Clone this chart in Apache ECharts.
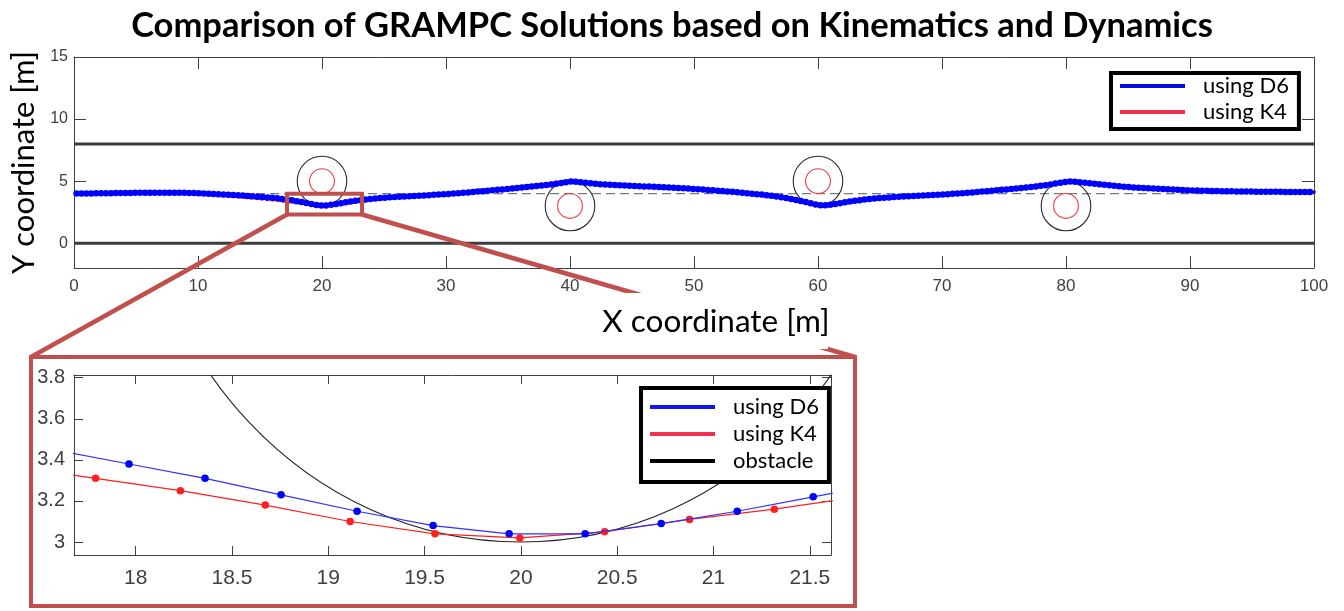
<!DOCTYPE html>
<html>
<head>
<meta charset="utf-8">
<script src="https://cdn.jsdelivr.net/npm/echarts@6/dist/echarts.min.js"></script>
<style>
  html, body { margin: 0; padding: 0; background: #fff; }
  #chart { width: 1344px; height: 611px; }
</style>
</head>
<body>
<div id="chart"></div>
<script>
// Vehicle paths around four obstacles, solved with the dynamic (D6) and kinematic (K4) models.
// Samples are spaced evenly along x; y values are listed per sample.
const d6Start = 0.204, d6Step = 0.3947;
const d6Y = [
  4.00,4.00,4.01,4.01,4.02,4.02,4.03,4.03,4.04,4.04,
  4.05,4.05,4.06,4.06,4.06,4.07,4.07,4.07,4.07,4.07,
  4.07,4.06,4.06,4.05,4.04,4.03,4.01,3.99,3.97,3.95,
  3.93,3.91,3.89,3.87,3.84,3.81,3.78,3.75,3.72,3.68,
  3.65,3.61,3.56,3.51,3.45,3.38,3.31,3.23,3.15,3.08,
  3.04,3.04,3.09,3.15,3.22,3.29,3.35,3.41,3.46,3.51,
  3.56,3.60,3.64,3.67,3.70,3.73,3.75,3.77,3.79,3.81,
  3.83,3.85,3.87,3.90,3.92,3.95,3.97,4.00,4.03,4.06,
  4.09,4.12,4.16,4.19,4.23,4.26,4.30,4.33,4.37,4.41,
  4.44,4.48,4.52,4.56,4.60,4.64,4.68,4.73,4.78,4.84,
  4.91,4.96,4.95,4.91,4.86,4.82,4.78,4.75,4.72,4.70,
  4.68,4.66,4.64,4.62,4.61,4.59,4.57,4.56,4.54,4.52,
  4.50,4.48,4.46,4.44,4.42,4.40,4.37,4.35,4.32,4.29,
  4.26,4.23,4.20,4.17,4.14,4.10,4.07,4.03,3.99,3.95,
  3.92,3.87,3.82,3.76,3.70,3.63,3.56,3.48,3.40,3.31,
  3.21,3.12,3.06,3.05,3.09,3.15,3.22,3.29,3.35,3.41,
  3.46,3.51,3.56,3.60,3.63,3.66,3.69,3.72,3.74,3.76,
  3.78,3.80,3.82,3.84,3.86,3.89,3.91,3.93,3.95,3.98,
  4.00,4.03,4.06,4.09,4.12,4.16,4.19,4.23,4.26,4.30,
  4.33,4.37,4.41,4.45,4.49,4.53,4.57,4.62,4.67,4.73,
  4.80,4.87,4.93,4.96,4.94,4.90,4.86,4.82,4.78,4.74,
  4.70,4.66,4.62,4.58,4.55,4.52,4.49,4.46,4.44,4.42,
  4.40,4.38,4.36,4.34,4.32,4.30,4.28,4.27,4.25,4.24,
  4.23,4.22,4.21,4.20,4.19,4.18,4.18,4.17,4.17,4.16,
  4.16,4.15,4.15,4.15,4.14,4.14,4.14,4.13,4.13,4.13,
  4.13,4.12,4.12,4.12
];
const k4Start = 0.172, k4Step = 0.4405;
const k4Y = [
  4.00,4.00,4.01,4.01,4.02,4.02,4.03,4.04,4.04,4.05,
  4.05,4.06,4.06,4.06,4.07,4.07,4.07,4.06,4.06,4.05,
  4.04,4.02,4.00,3.98,3.95,3.92,3.89,3.86,3.83,3.80,
  3.76,3.72,3.68,3.64,3.60,3.56,3.52,3.47,3.42,3.37,
  3.31,3.25,3.18,3.10,3.04,3.02,3.05,3.11,3.16,3.22,
  3.28,3.34,3.40,3.46,3.51,3.56,3.61,3.65,3.69,3.72,
  3.75,3.78,3.81,3.84,3.87,3.90,3.93,3.96,3.99,4.03,
  4.06,4.10,4.14,4.18,4.22,4.26,4.30,4.34,4.38,4.42,
  4.46,4.50,4.54,4.59,4.64,4.69,4.74,4.80,4.86,4.92,
  4.97,4.97,4.93,4.88,4.83,4.79,4.75,4.72,4.69,4.67,
  4.65,4.63,4.61,4.59,4.57,4.55,4.53,4.51,4.49,4.47,
  4.45,4.42,4.40,4.37,4.34,4.31,4.28,4.24,4.21,4.17,
  4.13,4.09,4.05,4.00,3.95,3.90,3.84,3.78,3.72,3.65,
  3.58,3.50,3.42,3.33,3.23,3.13,3.05,3.04,3.08,3.14,
  3.21,3.28,3.35,3.42,3.48,3.54,3.59,3.63,3.67,3.70,
  3.73,3.76,3.78,3.80,3.82,3.84,3.86,3.89,3.91,3.94,
  3.97,4.00,4.03,4.07,4.10,4.14,4.18,4.22,4.26,4.30,
  4.34,4.38,4.43,4.47,4.52,4.57,4.62,4.67,4.73,4.80,
  4.87,4.94,4.97,4.94,4.89,4.84,4.80,4.76,4.71,4.67,
  4.63,4.59,4.55,4.51,4.48,4.45,4.43,4.41,4.38,4.36,
  4.34,4.32,4.30,4.28,4.26,4.24,4.23,4.22,4.21,4.20,
  4.19,4.18,4.17,4.17,4.16,4.16,4.15,4.15,4.15,4.14,
  4.14,4.14,4.13,4.13,4.13,4.12,4.12,4.12
];

// Obstacle centres [x, y], with the safety radius and the body radius
const obstacleCenters = [[20, 5], [40, 3], [60, 5], [80, 3]];
const safetyRadius = 2;
const bodyRadius = 1;
const roadEdges = [0, 8];
const laneCenter = [4];

// Axis ticks
const mainXTicks = [0, 10, 20, 30, 40, 50, 60, 70, 80, 90, 100];
const mainYTicks = [0, 5, 10, 15];
const zoomXTicks = [18, 18.5, 19, 19.5, 20, 20.5, 21, 21.5];
const zoomYTicks = [3, 3.2, 3.4, 3.6, 3.8];
const zoomXRange = [17.68, 21.61];
const zoomYRange = [2.937, 3.813];
// Region of the main plot marked as magnified
const zoomBoxX = [17.18, 23.23];
const zoomBoxY = [2.31, 3.98];

const d6Pts = d6Y.map((y, i) => [d6Start + d6Step * i, y]);
const k4Pts = k4Y.map((y, i) => [k4Start + k4Step * i, y]);

const BLUE = '#0000ff';
const RED = '#ff1f1f';
const FRAME = '#c0504d';
const AXIS = '#404040';
const TICKFONT = 'Liberation Sans, Arial, sans-serif';
const TEXTFONT = 'Lato, "Open Sans", sans-serif';

function xAxisDef(grid, pos, min, max, ticks, tickLen, labelSize, margin) {
  return {
    type: 'value', gridIndex: grid, position: pos, min: min, max: max,
    axisLine: { show: true, onZero: false, lineStyle: { color: AXIS, width: 1 } },
    axisTick: { show: true, inside: true, length: tickLen, customValues: ticks, lineStyle: { color: AXIS, width: 1 } },
    axisLabel: pos === 'bottom'
      ? { show: true, customValues: ticks, color: AXIS, fontSize: labelSize, fontFamily: TICKFONT, margin: margin }
      : { show: false },
    splitLine: { show: false }
  };
}
function yAxisDef(grid, pos, min, max, ticks, tickLen, labelSize, margin) {
  return {
    type: 'value', gridIndex: grid, position: pos, min: min, max: max,
    axisLine: { show: true, onZero: false, lineStyle: { color: AXIS, width: 1 } },
    axisTick: { show: true, inside: true, length: tickLen, customValues: ticks, lineStyle: { color: AXIS, width: 1 } },
    axisLabel: pos === 'left'
      ? { show: true, customValues: ticks, color: AXIS, fontSize: labelSize, fontFamily: TICKFONT, margin: margin }
      : { show: false },
    splitLine: { show: false }
  };
}

function circleItem(radius, stroke, width) {
  return function (params, api) {
    const c = api.coord([api.value(0), api.value(1)]);
    const s = api.size([radius, radius]);
    const cs = params.coordSys;
    return {
      type: 'ellipse',
      shape: { cx: c[0], cy: c[1], rx: s[0], ry: s[1] },
      style: { fill: 'none', stroke: stroke, lineWidth: width },
      clipPath: { type: 'rect', shape: { x: cs.x, y: cs.y, width: cs.width, height: cs.height } }
    };
  };
}
function hLineItem(color, width, dash) {
  return function (params, api) {
    const cs = params.coordSys;
    const y = api.coord([0, api.value(0)])[1];
    return {
      type: 'line',
      shape: { x1: cs.x, y1: y, x2: cs.x + cs.width, y2: y },
      style: { stroke: color, lineWidth: width, lineDash: dash }
    };
  };
}

const chart = echarts.init(document.getElementById('chart'), null, { renderer: 'canvas' });

const option = {
  animation: false,
  backgroundColor: '#fff',
  title: {
    text: 'Comparison of GRAMPC Solutions based on Kinematics and Dynamics',
    left: 'center', top: 3,
    textStyle: { fontFamily: TEXTFONT, fontWeight: 'bold', fontSize: 34.5, color: '#000' }
  },
  grid: [
    { left: 74, top: 57, width: 1240, height: 211 },
    { left: 74, top: 375, width: 757, height: 180 }
  ],
  xAxis: [
    xAxisDef(0, 'bottom', 0, 100, mainXTicks, 12, 17, 10),
    xAxisDef(0, 'top', 0, 100, mainXTicks, 12, 17, 10),
    xAxisDef(1, 'bottom', zoomXRange[0], zoomXRange[1], zoomXTicks, 9, 21, 13),
    xAxisDef(1, 'top', zoomXRange[0], zoomXRange[1], zoomXTicks, 9, 21, 13)
  ],
  yAxis: [
    Object.assign(yAxisDef(0, 'left', -2, 15, mainYTicks, 12, 16, 6), {
      name: 'Y coordinate [m]', nameLocation: 'middle', nameGap: 35, nameRotate: 90,
      nameTextStyle: { fontFamily: TEXTFONT, fontSize: 31, color: '#000' }
    }),
    yAxisDef(0, 'right', -2, 15, mainYTicks, 12, 16, 6),
    yAxisDef(1, 'left', zoomYRange[0], zoomYRange[1], zoomYTicks, 9, 20, 9),
    yAxisDef(1, 'right', zoomYRange[0], zoomYRange[1], zoomYTicks, 9, 20, 9)
  ],
  legend: [
    {
      data: [
        { name: 'using D6', itemStyle: { color: '#0a0ae6' } },
        { name: 'using K4', itemStyle: { color: '#f03050' } }
      ],
      orient: 'vertical', left: 1111, top: 73,
      padding: [2, 10, 6, 9], itemGap: 4,
      icon: 'rect', itemWidth: 65, itemHeight: 4,
      backgroundColor: '#fff', borderColor: '#000', borderWidth: 4,
      textStyle: { fontFamily: TEXTFONT, fontSize: 22, color: '#000', padding: [0, 0, 0, 13] }
    },
    {
      data: [
        { name: 'using D6', itemStyle: { color: '#1414f0' } },
        { name: 'using K4', itemStyle: { color: '#f03050' } },
        { name: 'obstacle', itemStyle: { color: '#000' } }
      ],
      orient: 'vertical', left: 641, top: 388,
      padding: [8, 10, 10, 9], itemGap: 5,
      icon: 'rect', itemWidth: 65, itemHeight: 4,
      backgroundColor: '#fff', borderColor: '#000', borderWidth: 4,
      textStyle: { fontFamily: TEXTFONT, fontSize: 22, color: '#000', padding: [0, 0, 0, 13] }
    }
  ],
  series: [
    // road boundaries and lane centre
    {
      name: 'road edge', type: 'custom', xAxisIndex: 0, yAxisIndex: 0, z: 1, silent: true,
      data: roadEdges.map(v => [v]), encode: { y: 0 },
      renderItem: hLineItem('#3c3c3c', 3, null)
    },
    {
      name: 'lane centre', type: 'custom', xAxisIndex: 0, yAxisIndex: 0, z: 1, silent: true,
      data: laneCenter.map(v => [v]), encode: { y: 0 },
      renderItem: hLineItem('#7a7a7a', 1.2, [9, 5])
    },
    {
      name: 'obstacle', type: 'custom', xAxisIndex: 0, yAxisIndex: 0, z: 2, silent: true,
      itemStyle: { color: '#000' },
      data: obstacleCenters, encode: { x: 0, y: 1 },
      renderItem: circleItem(safetyRadius, '#2a2a2a', 1.1)
    },
    {
      name: 'obstacle body', type: 'custom', xAxisIndex: 0, yAxisIndex: 0, z: 2, silent: true,
      data: obstacleCenters, encode: { x: 0, y: 1 },
      renderItem: circleItem(bodyRadius, '#f03c3c', 1.1)
    },
    {
      name: 'using K4', type: 'line', xAxisIndex: 0, yAxisIndex: 0, z: 3,
      data: k4Pts, color: RED, symbol: 'circle', symbolSize: 4.5, showSymbol: true,
      lineStyle: { width: 2.5, color: RED }, itemStyle: { color: RED }
    },
    {
      name: 'using D6', type: 'line', xAxisIndex: 0, yAxisIndex: 0, z: 4,
      data: d6Pts, color: BLUE, symbol: 'circle', symbolSize: 6.5, showSymbol: true,
      lineStyle: { width: 3.2, color: BLUE }, itemStyle: { color: BLUE }
    },
    // magnified view
    {
      name: 'obstacle', type: 'custom', xAxisIndex: 2, yAxisIndex: 2, z: 2, silent: true,
      itemStyle: { color: '#000' },
      data: obstacleCenters, encode: { x: 0, y: 1 },
      renderItem: circleItem(safetyRadius, '#222', 1.1)
    },
    {
      name: 'using K4', type: 'line', xAxisIndex: 2, yAxisIndex: 2, z: 3,
      data: k4Pts, color: RED, symbol: 'circle', symbolSize: 7.5, showSymbol: true,
      lineStyle: { width: 1.2, color: RED }, itemStyle: { color: RED }
    },
    {
      name: 'using D6', type: 'line', xAxisIndex: 2, yAxisIndex: 2, z: 4,
      data: d6Pts, color: BLUE, symbol: 'circle', symbolSize: 7.5, showSymbol: true,
      lineStyle: { width: 1.2, color: '#3030ff' }, itemStyle: { color: BLUE }
    }
  ]
};

chart.setOption(option);

// Magnifier: box on the main plot, frame around the detail plot, and connecting lines
const bl = chart.convertToPixel({ xAxisIndex: 0, yAxisIndex: 0 }, [zoomBoxX[0], zoomBoxY[0]]);
const tr = chart.convertToPixel({ xAxisIndex: 0, yAxisIndex: 0 }, [zoomBoxX[1], zoomBoxY[1]]);
const frame = { x1: 31, y1: 357, x2: 855, y2: 606 };
const frameStyle = { stroke: FRAME, lineWidth: 4, fill: null };

chart.setOption({
  graphic: [
    {
      type: 'rect', z: 100,
      shape: { x: bl[0], y: tr[1], width: tr[0] - bl[0], height: bl[1] - tr[1] },
      style: frameStyle
    },
    {
      type: 'line', z: 100,
      shape: { x1: bl[0], y1: bl[1], x2: frame.x1, y2: frame.y1 },
      style: { stroke: FRAME, lineWidth: 4.5 }
    },
    {
      type: 'line', z: 100,
      shape: { x1: tr[0], y1: bl[1], x2: frame.x2, y2: frame.y1 },
      style: { stroke: FRAME, lineWidth: 4.5 }
    },
    {
      type: 'rect', z: 100,
      shape: { x: frame.x1, y: frame.y1, width: frame.x2 - frame.x1, height: frame.y2 - frame.y1 },
      style: frameStyle
    },
    {
      type: 'rect', z: 101,
      shape: { x: 598, y: 293, width: 230, height: 56 },
      style: { fill: '#fff' }
    },
    {
      type: 'text', z: 102,
      x: 716, y: 322,
      style: {
        text: 'X coordinate [m]', fill: '#000', font: '31.5px ' + TEXTFONT,
        align: 'center', verticalAlign: 'middle'
      }
    }
  ]
});
</script>
</body>
</html>
